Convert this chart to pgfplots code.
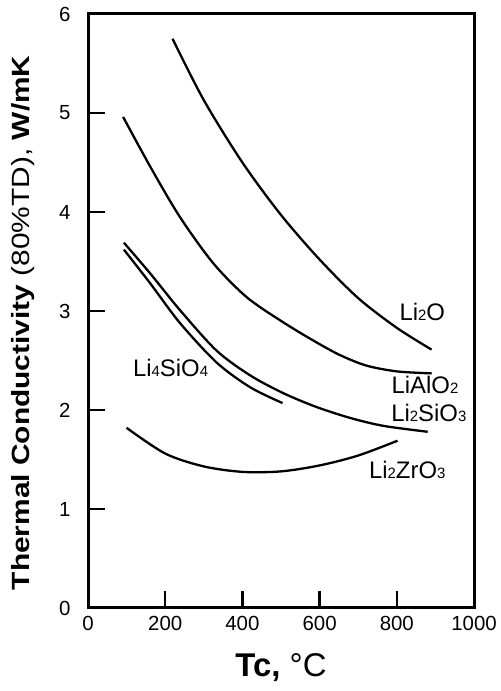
\documentclass[border=0pt]{standalone}
\usepackage{fontspec}
\setmainfont{Liberation Sans}
\newfontfamily\ylabfont[FakeStretch=1.2]{Liberation Sans}
\usepackage{pgfplots}
\pgfplotsset{compat=1.18}
\newcommand{\sub}[1]{{\fontsize{15}{15}\selectfont #1}}
\pgfplotsset{curve/.style={black, line width=2.3bp, smooth, mark=none}}
\begin{document}
\begin{tikzpicture}
\begin{axis}[
  scale only axis, width=386bp, height=594bp,
  xmin=0, xmax=1000, ymin=0, ymax=6,
  xtick={0,200,...,1000}, ytick={0,1,...,6},
  tick align=inside,
  xtick pos=bottom, ytick pos=left,
  major tick length=17bp,
  tick style={black, line width=2.2bp},
  axis line style={black, line width=2.8bp},
  /pgf/number format/assume math mode=true,
  /pgf/number format/1000 sep={},
  tick label style={font=\fontsize{20.5}{23}\selectfont},
  xticklabel style={yshift=-5bp},
  yticklabel style={xshift=-14bp},
  xlabel={\fontsize{33}{36}\selectfont\textbf{Tc,} °C},
  xlabel style={at={(axis description cs:0.5,-0.101)}, anchor=center},
  ylabel={\ylabfont\fontsize{25}{28}\selectfont\textbf{Thermal Conductivity} (80\%TD), \textbf{W/mK}},
  ylabel style={at={(axis description cs:-0.168,0.48)}, anchor=center},
]
\addplot[curve] coordinates {(219,5.75) (300,5.13) (400,4.50) (500,3.97) (600,3.52) (700,3.13) (800,2.83) (890,2.61)};
\addplot[curve] coordinates {(91,4.96) (161,4.46) (238,3.95) (325,3.48) (411,3.14) (500,2.90) (580,2.71) (650,2.56) (720,2.45) (800,2.39) (890,2.37)};
\addplot[curve] coordinates {(93,3.69) (161,3.38) (238,3.01) (333,2.60) (420,2.35) (506,2.17) (592,2.03) (679,1.92) (765,1.84) (880,1.78)};
\addplot[curve] coordinates {(93,3.62) (161,3.28) (238,2.88) (333,2.48) (420,2.23) (504,2.07)};
\addplot[curve] coordinates {(100,1.82) (200,1.56) (300,1.43) (400,1.375) (500,1.38) (600,1.44) (700,1.54) (802,1.69)};
\begin{scope}[every node/.style={font=\fontsize{24}{26}\selectfont, inner sep=0pt}]
\node at (axis cs:866,2.99) {Li\sub{2}O};
\node at (axis cs:873,2.25) {LiAlO\sub{2}};
\node at (axis cs:883,1.97) {Li\sub{2}SiO\sub{3}};
\node at (axis cs:827,1.39) {Li\sub{2}ZrO\sub{3}};
\node at (axis cs:214,2.42) {Li\sub{4}SiO\sub{4}};
\end{scope}
\end{axis}
\fill[black] ([shift={(-1.5bp,-1.5bp)}]current axis.south west) rectangle ([shift={(1.5bp,1.5bp)}]current axis.north west);
\fill[black] ([shift={(-1.5bp,-1.5bp)}]current axis.south east) rectangle ([shift={(1.5bp,1.5bp)}]current axis.north east);
\fill[black] ([shift={(-1.5bp,-1.5bp)}]current axis.south west) rectangle ([shift={(1.5bp,1.5bp)}]current axis.south east);
\fill[black] ([shift={(-1.5bp,-1.5bp)}]current axis.north west) rectangle ([shift={(1.5bp,1.5bp)}]current axis.north east);
\foreach \k in {1,...,5} {\fill[black] ([yshift=\k*99bp-1.2bp]current axis.south west) rectangle ++(17bp,2.4bp);}
\foreach \k in {1,...,4} {\fill[black] ([xshift=\k*77.2bp-1.2bp]current axis.south west) rectangle ++(2.4bp,17bp);}
\pgfresetboundingbox
\path ([shift={(-88bp,-83bp)}]current axis.south west) rectangle ([shift={(26bp,14bp)}]current axis.north east);
\end{tikzpicture}
\end{document}
